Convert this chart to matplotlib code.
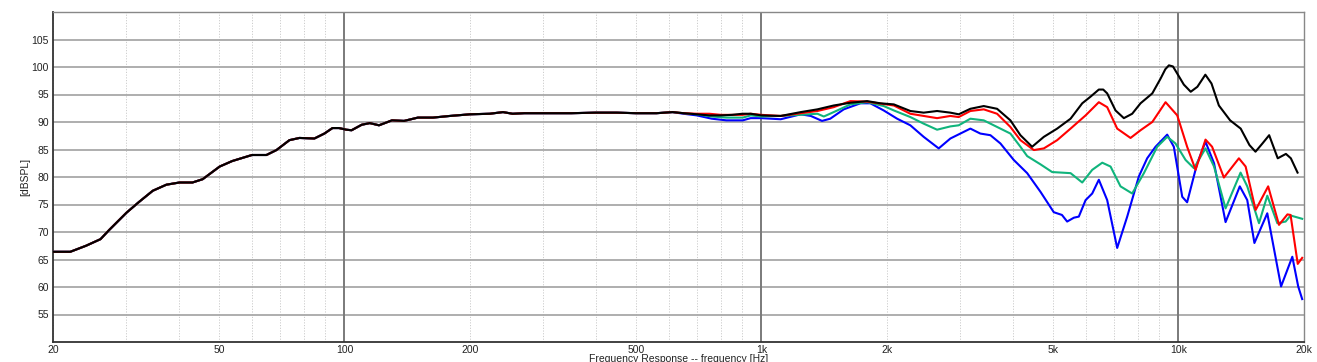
import matplotlib
matplotlib.use("Agg")
import matplotlib.pyplot as plt
import numpy as np

# ---- shared low-frequency part (all curves overlap here) ----
freq_low = [20, 22, 24, 26, 27.3, 30, 32.2, 34.7, 37.4, 40.2, 43.2, 45.7, 50.2, 53.8,
            60, 65, 68.7, 73.8, 78, 84.7, 89.5, 93.6, 97, 101, 104, 110, 115, 121, 130,
            139, 150, 163, 179, 200, 223, 240, 253, 270, 300, 350, 400, 450, 500, 560, 612]
spl_low = [66.4, 66.4, 67.5, 68.7, 70.4, 73.5, 75.5, 77.5, 78.6, 79.0, 79.0, 79.6, 81.9, 82.9,
           84.0, 84.0, 84.9, 86.7, 87.1, 87.0, 87.9, 88.9, 88.9, 88.6, 88.5, 89.5, 89.8, 89.4, 90.3,
           90.2, 90.8, 90.8, 91.1, 91.4, 91.5, 91.8, 91.5, 91.6, 91.6, 91.6, 91.7, 91.7, 91.6, 91.6, 91.8]

# ---- black (on-axis) ----
freq_black = [650, 700, 750, 800, 850, 900, 942, 1000, 1112, 1242, 1362, 1490, 1634, 1792,
              1928, 2077, 2275, 2449, 2637, 2838, 2972, 3169, 3412, 3673, 3953, 4178, 4457,
              4755, 5118, 5511, 5878, 6152, 6442, 6600, 6746, 7064, 7397, 7745, 8110, 8654, 9060,
              9300, 9486, 9700, 9933, 10300, 10700, 11100, 11600, 12000, 12500, 13300, 14100,
              14800, 15300, 15900, 16500, 17300, 18100, 18600, 19300]
spl_black = [91.6, 91.4, 91.2, 91.2, 91.3, 91.5, 91.5, 91.2, 91.1, 91.8, 92.3, 93.0, 93.5, 93.8,
             93.4, 93.2, 92.0, 91.7, 92.0, 91.7, 91.4, 92.4, 92.9, 92.4, 90.3, 87.6, 85.5,
             87.3, 88.8, 90.6, 93.4, 94.6, 95.9, 95.9, 95.2, 92.1, 90.7, 91.5, 93.4, 95.2, 97.9,
             99.6, 100.3, 100.1, 98.8, 96.8, 95.5, 96.4, 98.6, 97.0, 93.0, 90.3, 88.8,
             85.8, 84.6, 86.1, 87.6, 83.4, 84.2, 83.4, 80.8]

# ---- red ----
freq_red = [650, 700, 750, 800, 900, 942, 1000, 1112, 1242, 1362, 1490, 1634, 1792, 2077,
            2275, 2449, 2637, 2838, 2972, 3169, 3412, 3673, 3953, 4178, 4500, 4755, 5118,
            5511, 5988, 6442, 6746, 7129, 7674, 8110, 8654, 9312, 9933, 10490, 10990, 11610,
            12040, 12850, 13960, 14490, 15310, 16410, 17420, 18250, 18570, 19320, 19800]
spl_red = [91.6, 91.5, 91.5, 91.3, 91.3, 91.5, 91.3, 91.1, 91.6, 92.0, 92.7, 93.8, 93.7, 93.0,
           91.5, 91.1, 90.7, 91.1, 90.9, 92.0, 92.3, 91.5, 89.1, 86.7, 84.9, 85.2, 86.7,
           88.8, 91.2, 93.6, 92.7, 88.8, 87.1, 88.5, 90.0, 93.6, 91.2, 85.5, 81.3, 86.8,
           85.5, 79.9, 83.4, 81.9, 74.0, 78.3, 71.3, 73.2, 73.1, 64.2, 65.3]

# ---- green ----
freq_green = [650, 700, 760, 824, 902, 942, 1000, 1112, 1362, 1411, 1490, 1634, 1792, 1964,
              2077, 2275, 2449, 2637, 2838, 2972, 3169, 3412, 3673, 3953, 4178, 4337, 4668,
              4978, 5511, 5878, 6211, 6565, 6873, 7261, 7745, 8262, 8893, 9396, 9836, 10400,
              10890, 11610, 12170, 12970, 14090, 14620, 15600, 16330, 17260, 18070, 18570, 19800]
spl_green = [91.6, 91.4, 91.0, 90.8, 90.8, 91.2, 91.0, 91.1, 91.5, 91.0, 91.8, 93.2, 93.6, 92.9,
             92.1, 90.9, 89.7, 88.6, 89.2, 89.4, 90.6, 90.3, 89.1, 87.9, 85.5, 83.8, 82.3,
             80.9, 80.7, 79.0, 81.3, 82.6, 81.9, 78.3, 77.0, 80.7, 85.5, 87.3, 86.1, 83.1,
             81.6, 85.2, 81.9, 74.3, 80.8, 78.3, 71.6, 76.6, 71.6, 71.9, 73.0, 72.4]

# ---- blue ----
freq_blue = [650, 700, 760, 824, 902, 942, 1000, 1112, 1242, 1313, 1397, 1462, 1575, 1727,
             1824, 1964, 2115, 2275, 2449, 2661, 2838, 2999, 3169, 3348, 3540, 3741, 4027,
             4337, 4668, 5023, 5255, 5408, 5613, 5768, 5988, 6211, 6442, 6746, 7129, 7535,
             8035, 8413, 8810, 9396, 9747, 10210, 10490, 11090, 11610, 12170, 12970, 14030,
             14620, 15210, 16330, 17620, 18750, 19370, 19800]
spl_blue = [91.5, 91.2, 90.6, 90.3, 90.3, 90.7, 90.7, 90.5, 91.4, 91.1, 90.2, 90.6, 92.3, 93.4,
            93.4, 92.1, 90.6, 89.4, 87.3, 85.2, 87.0, 87.9, 88.8, 87.9, 87.6, 86.1, 83.1,
            80.7, 77.3, 73.6, 73.1, 71.9, 72.6, 72.8, 75.8, 77.0, 79.5, 75.8, 67.1, 72.8,
            80.1, 83.4, 85.5, 87.7, 85.5, 76.4, 75.4, 82.5, 86.4, 82.5, 71.8, 78.3,
            75.8, 68.0, 73.4, 60.1, 65.5, 60.1, 57.8]

xtick_vals = [20, 50, 100, 200, 500, 1000, 2000, 5000, 10000, 20000]
xtick_labels = ["20", "50", "100", "200", "500", "1k", "2k", "5k", "10k", "20k"]
ytick_vals = [55, 60, 65, 70, 75, 80, 85, 90, 95, 100, 105]

plt.rcParams['font.family'] = ['Liberation Sans', 'DejaVu Sans']

fig = plt.figure(figsize=(13.17, 3.62), dpi=100)
ax = fig.add_axes([53 / 1317, 1 - 342 / 362, (1304 - 53) / 1317, (342 - 12) / 362])

ax.set_xscale('log')
ax.set_xlim(20, 20000)
ax.set_ylim(50, 110)

# grid
minor = [m * 10 ** e for e in range(1, 5) for m in range(2, 10) if 20 <= m * 10 ** e <= 20000]
for f in minor:
    ax.axvline(f, color='#cccccc', lw=0.7, ls=(0, (1.2, 1.6)), zorder=1)
for f in [100, 1000, 10000]:
    ax.axvline(f, color='#7a7a7a', lw=1.4, zorder=1.5)
for y in ytick_vals:
    ax.axhline(y, color='#a8a8a8', lw=1.3, zorder=1)

lw = 1.5
ax.plot(freq_low + freq_blue, spl_low + spl_blue, color='#0000ff', lw=lw, zorder=3)
ax.plot(freq_low + freq_green, spl_low + spl_green, color='#10b47c', lw=lw, zorder=4)
ax.plot(freq_low + freq_red, spl_low + spl_red, color='#ff0000', lw=lw, zorder=5)
ax.plot(freq_low + freq_black, spl_low + spl_black, color='#000000', lw=lw, zorder=6)

ax.set_xticks(xtick_vals)
ax.set_xticklabels(xtick_labels)
ax.xaxis.set_minor_locator(matplotlib.ticker.NullLocator())
ax.set_yticks(ytick_vals)
ax.set_yticklabels([str(v) for v in ytick_vals])
ax.tick_params(axis='both', length=0, labelsize=7.5, colors='#222222')
ax.tick_params(axis='x', pad=2)
ax.tick_params(axis='y', pad=3)

for s in ['left', 'bottom']:
    ax.spines[s].set_color('#333333')
    ax.spines[s].set_linewidth(1.3)
for s in ['top', 'right']:
    ax.spines[s].set_color('#888888')
    ax.spines[s].set_linewidth(1.0)

ax.set_ylabel('[dBSPL]', fontsize=7.5, labelpad=1, color='#222222')
fig.text((53 + 1304) / 2 / 1317, 1 - 359 / 362, 'Frequency Response -- frequency [Hz]',
         ha='center', va='center', fontsize=7.5, color='#222222')

fig.savefig('out.png', dpi=100)
